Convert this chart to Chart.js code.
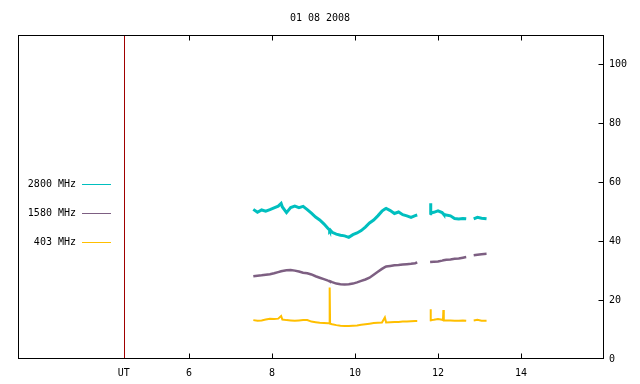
<!DOCTYPE html>
<html>
<head>
<meta charset="utf-8">
<script src="https://cdn.jsdelivr.net/npm/chart.js@4.4.1/dist/chart.umd.min.js"></script>
<style>
  body { margin: 0; background: #fff; }
  canvas { display: block; }
</style>
</head>
<body>
<canvas id="radio-chart" width="640" height="384"></canvas>
<script>
// time of day (hours UT); null values make the gaps between recordings
const hours = [
  7.55, 7.65, 7.75, 7.85, 7.95, 8.05, 8.15, 8.22, 8.25, 8.35,
  8.45, 8.55, 8.65, 8.75, 8.85, 8.95, 9.05, 9.15, 9.25, 9.35,
  9.38, 9.39, 9.40, 9.45, 9.55, 9.65, 9.75, 9.85, 9.95, 10.05,
  10.15, 10.25, 10.35, 10.45, 10.55, 10.65, 10.72, 10.75, 10.85, 10.95,
  11.05, 11.15, 11.25, 11.35, 11.45, 11.5,
  11.65,
  11.81, 11.82, 11.83, 11.9, 12.0, 12.1, 12.12, 12.13, 12.14, 12.2,
  12.3, 12.4, 12.5, 12.6, 12.68,
  12.77,
  12.86, 12.95, 13.05, 13.17
];

const flux2800 = [
  50.8, 49.8, 50.6, 50.2, 50.7, 51.3, 51.9, 52.8, 51.6, 49.7,
  51.4, 51.9, 51.4, 51.8, 50.7, 49.5, 48.2, 47.2, 45.9, 44.3,
  43.9, 43.6, 43.8, 43.0, 42.4, 42.0, 41.8, 41.3, 42.2, 42.8,
  43.6, 44.8, 46.2, 47.2, 48.6, 50.2, 50.9, 51.1, 50.4, 49.4,
  49.9, 49.0, 48.6, 48.1, 48.7, 48.9,
  null,
  49.3, 52.9, 49.6, 49.8, 50.3, 49.7, 49.4, 49.3, 49.1, 48.9,
  48.6, 47.7, 47.5, 47.7, 47.6,
  null,
  47.6, 48.1, 47.8, 47.6
];

const flux1580 = [
  28.1, 28.3, 28.4, 28.6, 28.8, 29.1, 29.5, 29.8, 29.9, 30.1,
  30.2, 30.0, 29.7, 29.3, 29.1, 28.7, 28.1, 27.6, 27.1, 26.6,
  26.5, 26.4, 26.4, 26.1, 25.6, 25.4, 25.3, 25.4, 25.6, 26.0,
  26.5, 27.0, 27.6, 28.6, 29.6, 30.6, 31.2, 31.4, 31.6, 31.8,
  31.9, 32.1, 32.2, 32.3, 32.5, 32.8,
  null,
  32.9, 32.9, 32.9, 33.0, 33.1, 33.4, 33.4, 33.5, 33.5, 33.7,
  33.8, 34.0, 34.1, 34.4, 34.6,
  null,
  35.2, 35.4, 35.6, 35.7
];

const flux403 = [
  13.2, 13.0, 13.1, 13.4, 13.7, 13.6, 13.7, 14.6, 13.4, 13.2,
  13.1, 13.0, 13.1, 13.2, 13.2, 12.7, 12.5, 12.3, 12.2, 12.1,
  12.1, 24.3, 12.0, 11.8, 11.5, 11.3, 11.2, 11.2, 11.3, 11.4,
  11.6, 11.8, 12.0, 12.2, 12.3, 12.4, 14.1, 12.4, 12.5, 12.6,
  12.6, 12.7, 12.7, 12.8, 12.9, 12.9,
  null,
  13.1, 16.9, 13.2, 13.3, 13.6, 13.3, 13.2, 16.6, 13.1, 13.1,
  13.1, 13.0, 13.0, 13.1, 13.0,
  null,
  13.1, 13.3, 13.0, 13.0
];

const seriesNames = ["2800 MHz", "1580 MHz", "403 MHz"];
const seriesColors = ["#00bfbf", "#7d5f82", "#ffbf00"];
const xTickHours = [6, 8, 10, 12, 14];
const yTickValues = [0, 20, 40, 60, 80, 100];
const utHour = 4.43;
const titleText = "01 08 2008";

const monoFont = "10px 'DejaVu Sans Mono', monospace";

const toPoints = (vals) => hours.map((h, i) => ({ x: h, y: vals[i] }));

// frame, inward ticks, UT marker, legend and title (gnuplot look)
const gnuplotDecor = {
    id: "gnuplotDecor",
    beforeDatasetsDraw(chart) {
        const { ctx, chartArea, scales } = chart;
        const ux = Math.round(scales.x.getPixelForValue(utHour)) + 0.5;
        ctx.save();
        ctx.strokeStyle = "#a00000";
        ctx.lineWidth = 1;
        ctx.beginPath();
        ctx.moveTo(ux, chartArea.top);
        ctx.lineTo(ux, chartArea.bottom);
        ctx.stroke();
        ctx.restore();
    },
    afterDraw(chart) {
        const { ctx, chartArea, scales } = chart;
        const l = chartArea.left + 0.5, r = chartArea.right - 0.5;
        const t = chartArea.top + 0.5, b = chartArea.bottom - 0.5;
        ctx.save();
        ctx.strokeStyle = "#000";
        ctx.lineWidth = 1;
        ctx.strokeRect(l, t, r - l, b - t);
        ctx.beginPath();
        xTickHours.forEach(h => {
            const px = Math.round(scales.x.getPixelForValue(h)) + 0.5;
            ctx.moveTo(px, b); ctx.lineTo(px, b - 5);
            ctx.moveTo(px, t); ctx.lineTo(px, t + 5);
        });
        yTickValues.forEach(v => {
            if (v === 0) return;
            const py = Math.round(scales.y.getPixelForValue(v)) + 0.5;
            ctx.moveTo(r, py); ctx.lineTo(r - 5, py);
        });
        ctx.stroke();

        ctx.font = monoFont;
        ctx.fillStyle = "#000";
        ctx.textBaseline = "middle";
        ctx.textAlign = "center";
        ctx.fillText(titleText, 320, 18);

        ctx.textAlign = "right";
        seriesNames.forEach((name, i) => {
            const y = 184 + i * 29;
            ctx.fillStyle = "#000";
            ctx.fillText(name, 76, y);
            ctx.strokeStyle = seriesColors[i];
            ctx.beginPath();
            ctx.moveTo(82, y + 0.5);
            ctx.lineTo(111, y + 0.5);
            ctx.stroke();
        });
        ctx.restore();
    }
};

const ctx = document.getElementById("radio-chart");

let radioChart = new Chart(ctx, {
    type: "line",
    data: {
        datasets: [
            { label: seriesNames[0], data: toPoints(flux2800), borderColor: seriesColors[0], borderWidth: 3 },
            { label: seriesNames[1], data: toPoints(flux1580), borderColor: seriesColors[1], borderWidth: 2.5 },
            { label: seriesNames[2], data: toPoints(flux403), borderColor: seriesColors[2], borderWidth: 2 },
        ].map(d => Object.assign(d, {
            pointRadius: 0,
            tension: 0,
            spanGaps: false,
            backgroundColor: "transparent",
            borderJoinStyle: "miter",
        }))
    },
    options: {
        responsive: false,
        animation: false,
        devicePixelRatio: 1,
        layout: { padding: { left: 18, top: 35, right: 0, bottom: 0 } },
        plugins: {
            legend: { display: false },
            title: { display: false },
            tooltip: { enabled: false },
        },
        scales: {
            x: {
                type: "linear",
                min: 1.88,
                max: 16,
                grid: { display: false, drawTicks: false },
                border: { display: false },
                afterBuildTicks: s => { s.ticks = [utHour, ...xTickHours].map(v => ({ value: v })); },
                afterFit: s => { s.height = 25; },
                ticks: {
                    font: { family: "'DejaVu Sans Mono', monospace", size: 10 },
                    color: "#000",
                    padding: 8,
                    maxRotation: 0,
                    autoSkip: false,
                    callback: v => (v === utHour ? "UT" : String(v)),
                },
            },
            y: {
                position: "right",
                min: 0,
                max: 110,
                grid: { display: false, drawTicks: false },
                border: { display: false },
                afterBuildTicks: s => { s.ticks = yTickValues.map(v => ({ value: v })); },
                afterFit: s => { s.width = 36; },
                ticks: {
                    font: { family: "'DejaVu Sans Mono', monospace", size: 10 },
                    color: "#000",
                    padding: 5,
                },
            },
        },
    },
    plugins: [gnuplotDecor],
});
</script>
</body>
</html>
